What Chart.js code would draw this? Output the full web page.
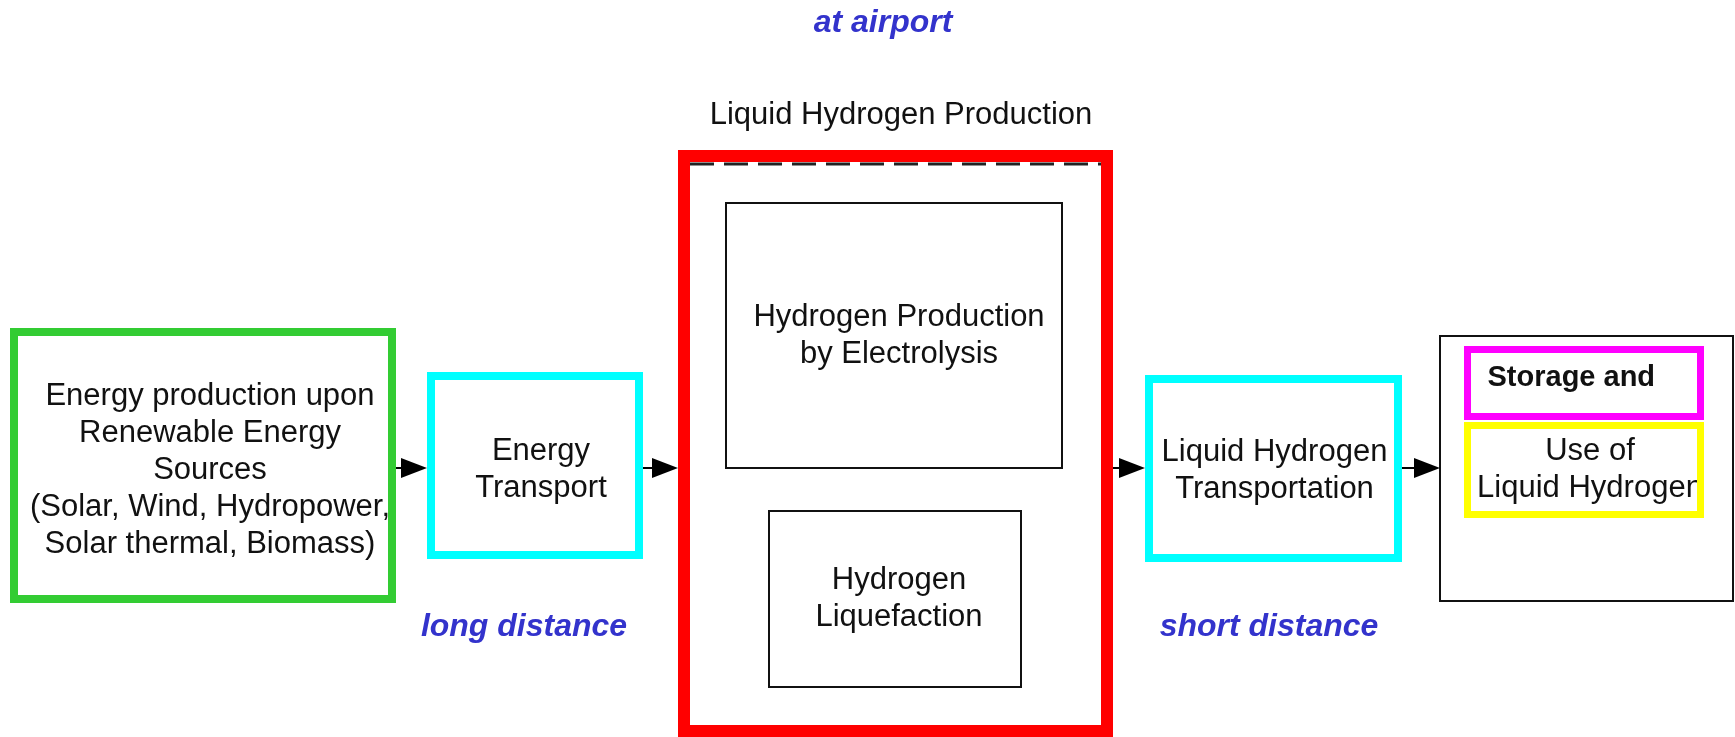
<!DOCTYPE html>
<html>
<head>
<meta charset="utf-8">
<script src="https://cdn.jsdelivr.net/npm/chart.js@4/dist/chart.umd.min.js"></script>
<style>
  html, body { margin: 0; padding: 0; background: #fff; }
  #diagram { display: block; }
</style>
</head>
<body>
<canvas id="diagram" width="1735" height="737"></canvas>
<script>
// diagram space (same units as the picture)
const spanX = [0, 1735];
const spanY = [0, 737];

// process boxes
const boxIds = ['source', 'energyTransport', 'plant', 'electrolysis', 'liquefaction', 'lh2Transport', 'airportUse', 'storage', 'use'];
const boxLeft = [14, 431, 684, 726, 769, 1149, 1440, 1467.5, 1467.5];
const boxRight = [392, 639, 1107, 1062, 1021, 1398, 1733, 1700.5, 1700.5];
const boxTop = [332, 376, 156, 203, 511, 379, 336, 349.5, 425.5];
const boxBottom = [599, 555, 731, 468, 687, 558, 601, 416.5, 514.5];
const boxLines = [
    ['Energy production upon', 'Renewable Energy', 'Sources', '(Solar, Wind, Hydropower,', 'Solar thermal, Biomass)'],
    ['Energy', 'Transport'],
    [],
    ['Hydrogen Production', 'by Electrolysis'],
    ['Hydrogen', 'Liquefaction'],
    ['Liquid Hydrogen', 'Transportation'],
    [],
    ['Storage and'],
    ['Use of', 'Liquid Hydrogen']
];

// arrows between stages
const arrowStart = [396, 643, 1113, 1402];
const arrowEnd = [427, 678, 1145, 1440];
const arrowLevel = [468, 468, 468, 468];

// free labels
const labelText = ['at airport', 'Liquid Hydrogen Production', 'long distance', 'short distance'];
const labelX = [883, 901, 524, 1269];
const labelY = [32, 124, 636, 636];

// styles
const boxStyle = {
    source: { color: '#33cc33', width: 8, dx: 7, dy: 5 },
    energyTransport: { color: '#00ffff', width: 8, dx: 6, dy: 4 },
    plant: { color: '#ff0000', width: 12 },
    electrolysis: { color: '#111111', width: 2, dx: 5 },
    liquefaction: { color: '#111111', width: 2, dx: 4 },
    lh2Transport: { color: '#00ffff', width: 8, dx: 1, dy: 2 },
    airportUse: { color: '#111111', width: 2 },
    storage: { color: '#ff00ff', width: 7, font: 'bold 29px "Liberation Sans", Arial, sans-serif', align: 'left', dx: 20, dy: -5 },
    use: { color: '#ffff00', width: 7, dx: 6, clip: true }
};
const boxFont = '31px "Liberation Sans", Arial, sans-serif';
const lineGap = 37;
const labelStyle = [
    { font: 'italic bold 32px "Liberation Sans", Arial, sans-serif', color: '#3333cc' },
    { font: '31px "Liberation Sans", Arial, sans-serif', color: '#111111' },
    { font: 'italic bold 32px "Liberation Sans", Arial, sans-serif', color: '#3333cc' },
    { font: 'italic bold 32px "Liberation Sans", Arial, sans-serif', color: '#3333cc' }
];

const diagramPlugin = {
    id: 'flowDiagram',
    afterDatasetsDraw(chart) {
        const ctx = chart.ctx;
        const xs = chart.scales.x;
        const ys = chart.scales.y;
        const px = v => xs.getPixelForValue(v);
        const py = v => ys.getPixelForValue(v);

        ctx.save();

        // dashed inner rim of the plant box
        const p = boxIds.indexOf('plant');
        ctx.strokeStyle = '#222';
        ctx.lineWidth = 3;
        ctx.setLineDash([24, 10]);
        ctx.beginPath();
        ctx.moveTo(px(boxLeft[p] + 6), py(boxTop[p] + 8));
        ctx.lineTo(px(boxRight[p] - 6), py(boxTop[p] + 8));
        ctx.stroke();
        ctx.setLineDash([]);

        boxIds.forEach((id, i) => {
            const st = boxStyle[id];
            const x0 = px(boxLeft[i]), x1 = px(boxRight[i]);
            const y0 = py(boxTop[i]), y1 = py(boxBottom[i]);
            const lines = boxLines[i];

            if (lines.length) {
                ctx.save();
                if (st.clip) {
                    ctx.beginPath();
                    ctx.rect(x0, y0, x1 - x0, y1 - y0);
                    ctx.clip();
                }
                ctx.font = st.font || boxFont;
                ctx.fillStyle = '#111';
                ctx.textBaseline = 'middle';
                ctx.textAlign = st.align || 'center';
                const tx = (st.align === 'left' ? x0 : (x0 + x1) / 2) + (st.dx || 0);
                const cy = (y0 + y1) / 2 + (st.dy || 0);
                lines.forEach((line, k) => {
                    const ty = cy + (k - (lines.length - 1) / 2) * lineGap;
                    ctx.fillText(line, tx, ty);
                });
                ctx.restore();
            }

            ctx.strokeStyle = st.color;
            ctx.lineWidth = st.width;
            ctx.lineJoin = 'miter';
            ctx.strokeRect(x0, y0, x1 - x0, y1 - y0);
        });

        // arrows
        ctx.fillStyle = '#000';
        ctx.strokeStyle = '#000';
        arrowStart.forEach((s, i) => {
            const xa = px(s), xb = px(arrowEnd[i]), y = py(arrowLevel[i]);
            const head = Math.min(26, xb - xa - 4);
            ctx.lineWidth = 2;
            ctx.beginPath();
            ctx.moveTo(xa, y);
            ctx.lineTo(xb - head, y);
            ctx.stroke();
            ctx.beginPath();
            ctx.moveTo(xb, y);
            ctx.lineTo(xb - head, y - 10);
            ctx.lineTo(xb - head, y + 10);
            ctx.closePath();
            ctx.fill();
        });

        // labels
        ctx.textAlign = 'center';
        ctx.textBaseline = 'alphabetic';
        labelText.forEach((t, i) => {
            ctx.font = labelStyle[i].font;
            ctx.fillStyle = labelStyle[i].color;
            ctx.fillText(t, px(labelX[i]), py(labelY[i]));
        });

        ctx.restore();
    }
};

const centers = boxIds.map((id, i) => ({ x: (boxLeft[i] + boxRight[i]) / 2, y: (boxTop[i] + boxBottom[i]) / 2 }));

new Chart(document.getElementById('diagram'), {
    type: 'scatter',
    data: {
        datasets: [{
            label: 'stages',
            data: centers,
            pointRadius: 0,
            showLine: false
        }]
    },
    options: {
        responsive: false,
        animation: false,
        devicePixelRatio: 1,
        layout: { padding: 0 },
        plugins: {
            legend: { display: false },
            tooltip: { enabled: false }
        },
        scales: {
            x: { type: 'linear', min: spanX[0], max: spanX[1], display: false },
            y: { type: 'linear', min: spanY[0], max: spanY[1], reverse: true, display: false }
        }
    },
    plugins: [diagramPlugin]
});
</script>
</body>
</html>
